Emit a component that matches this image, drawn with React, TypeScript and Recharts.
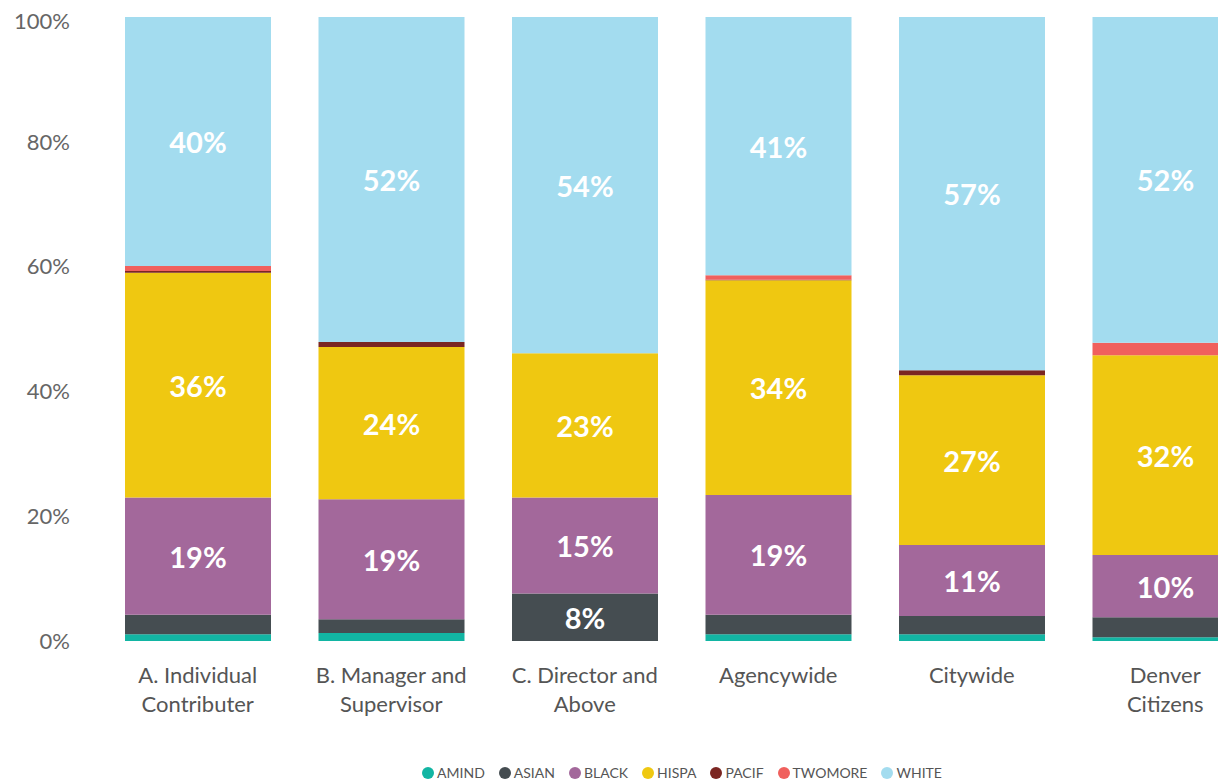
import React from 'react';
import { BarChart, Bar, XAxis, YAxis, LabelList, Legend } from 'recharts';

const categories = [
  'A. Individual\nContributer',
  'B. Manager and\nSupervisor',
  'C. Director and\nAbove',
  'Agencywide',
  'Citywide',
  'Denver\nCitizens',
];
const amind = [1.1, 1.3, 0, 1.1, 1.1, 0.6];
const asian = [3.1, 2.2, 7.6, 3.1, 2.9, 3.2];
const black = [18.8, 19.2, 15.4, 19.2, 11.4, 10.0];
const hispa = [36.0, 24.4, 23.1, 34.4, 27.2, 32.0];
const pacif = [0.3, 0.8, 0, 0.1, 0.8, 0];
const twomore = [0.8, 0, 0, 0.7, 0, 2.0];
const white = [39.9, 52.1, 53.9, 41.4, 56.6, 52.2];
const yTicks = [0, 20, 40, 60, 80, 100];

const seriesKeys = ['AMIND', 'ASIAN', 'BLACK', 'HISPA', 'PACIF', 'TWOMORE', 'WHITE'];
const seriesValues = [amind, asian, black, hispa, pacif, twomore, white];
const seriesColors = ['#12b5a3', '#454d51', '#a3689b', '#efc811', '#7b2622', '#f0605d', '#a3dcef'];

const data = categories.map((c, i) => {
  const row: any = { name: c };
  seriesKeys.forEach((k, j) => {
    row[k] = seriesValues[j][i];
  });
  return row;
});

const FONT = 'Lato, "Open Sans", sans-serif';

const renderValueLabel = (props: any) => {
  const { x, y, width, height, value } = props;
  if (value == null || value < 5) return null;
  return (
    <text
      x={x + width / 2}
      y={y + height / 2}
      textAnchor="middle"
      dominantBaseline="central"
      fill="#ffffff"
      fontFamily={FONT}
      fontWeight={700}
      fontSize={29}
    >
      {`${Math.round(value)}%`}
    </text>
  );
};

const XTick = (props: any) => {
  const { x, y, payload } = props;
  const lines = String(payload.value).split('\n');
  return (
    <text x={x} y={y} textAnchor="middle" fill="#555" fontFamily={FONT} fontSize={22}>
      {lines.map((l, i) => (
        <tspan key={i} x={x} dy={i === 0 ? 42 : 28.5}>
          {l}
        </tspan>
      ))}
    </text>
  );
};

const LegendContent = () => (
  <div
    style={{
      marginLeft: 101,
      width: 1160,
      height: 16,
      display: 'flex',
      justifyContent: 'center',
      alignItems: 'center',
      fontFamily: FONT,
      fontSize: 14,
      color: '#555',
      lineHeight: '16px',
    }}
  >
    {seriesKeys.map((k, i) => (
      <div key={k} style={{ display: 'flex', alignItems: 'center', marginRight: 14 }}>
        <span
          style={{
            display: 'inline-block',
            width: 12,
            height: 12,
            borderRadius: 6,
            background: seriesColors[i],
            marginRight: 3,
          }}
        />
        <span>{k}</span>
      </div>
    ))}
  </div>
);

export default function App() {
  return (
    <div style={{ width: 1218, height: 773, overflow: 'hidden', marginRight: -8 }}>
      <BarChart
        width={1270}
        height={773}
        data={data}
        margin={{ top: 9, right: 16, bottom: 0, left: 0 }}
      >
        <XAxis
          dataKey="name"
          axisLine={false}
          tickLine={false}
          tickSize={0}
          tickMargin={0}
          interval={0}
          height={124}
          tick={<XTick />}
        />
        <YAxis
          domain={[0, 100]}
          ticks={yTicks}
          width={93}
          axisLine={false}
          tickLine={false}
          tickSize={0}
          tickMargin={31}
          tickFormatter={(v: number) => `${v}%`}
          tick={{ fill: '#666', fontFamily: FONT, fontSize: 22 }}
        />
        <Legend verticalAlign="bottom" content={<LegendContent />} />
        {seriesKeys.map((k, i) => (
          <Bar key={k} dataKey={k} stackId="a" fill={seriesColors[i]} barSize={146} isAnimationActive={false}>
            <LabelList dataKey={k} content={renderValueLabel} />
          </Bar>
        ))}
      </BarChart>
    </div>
  );
}
